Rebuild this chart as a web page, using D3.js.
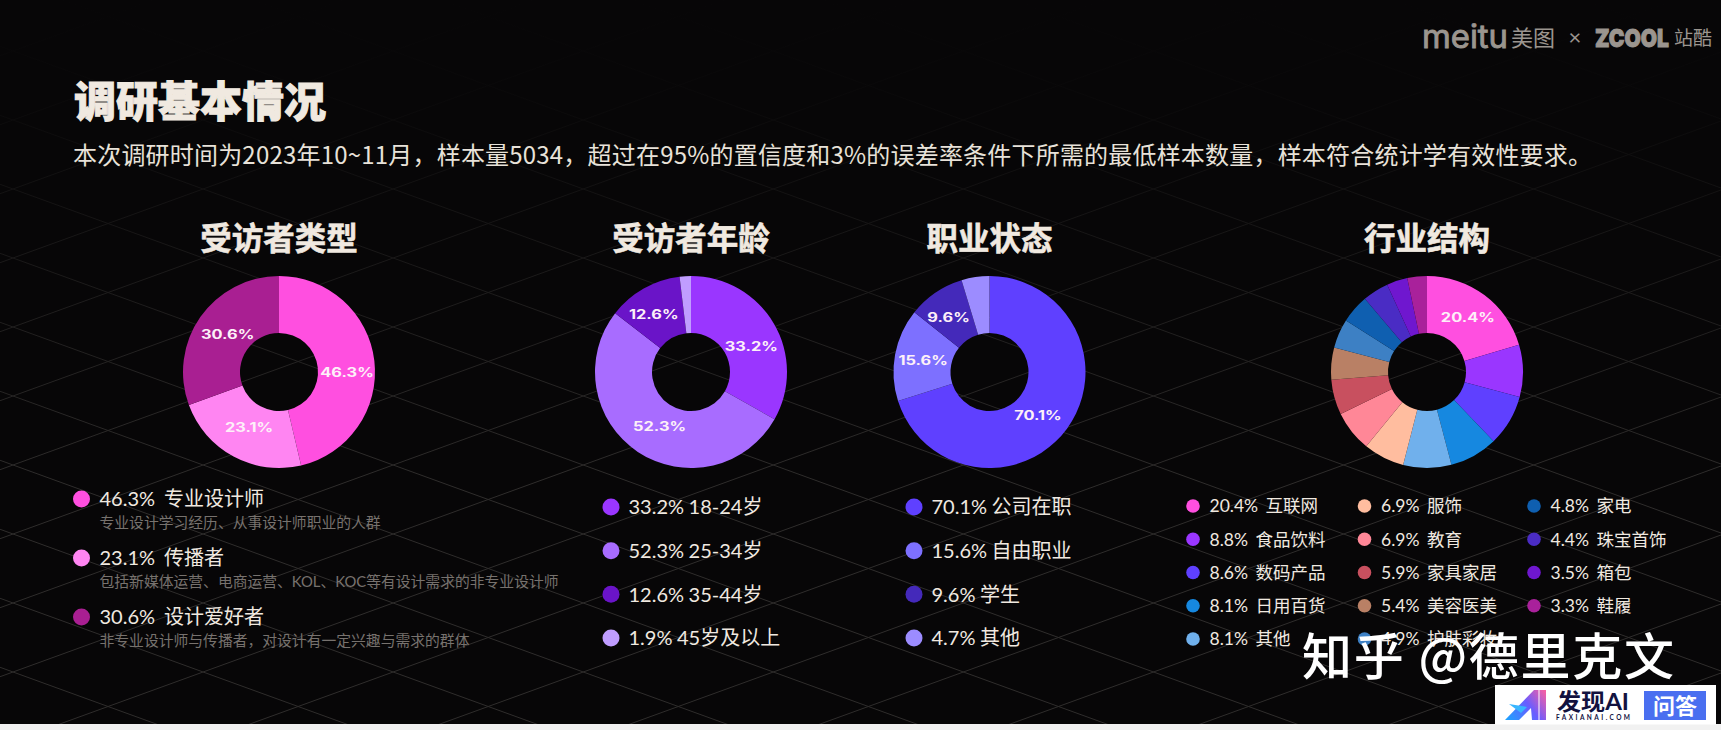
<!DOCTYPE html>
<html lang="zh-CN">
<head>
<meta charset="utf-8">
<script src="https://cdn.jsdelivr.net/npm/d3@7"></script>
<style>
html,body{margin:0;padding:0;background:#070607;overflow:hidden}
text{font-family:"Lato","Noto Sans CJK SC",sans-serif}
</style>
</head>
<body>
<svg id="chart" width="1721" height="730"></svg>
<script>
// ---- data ----
const mainTitle = "调研基本情况";
const subTitle = "本次调研时间为2023年10~11月，样本量5034，超过在95%的置信度和3%的误差率条件下所需的最低样本数量，样本符合统计学有效性要求。";

const typeTitle = "受访者类型";
const typeNames = ["专业设计师", "传播者", "设计爱好者"];
const typeValues = [46.3, 23.1, 30.6];
const typeNotes = ["专业设计学习经历、从事设计师职业的人群", "包括新媒体运营、电商运营、KOL、KOC等有设计需求的非专业设计师", "非专业设计师与传播者，对设计有一定兴趣与需求的群体"];
const typeColors = ["#ff4fe0", "#ff85f2", "#a91f92"];

const ageTitle = "受访者年龄";
const ageNames = ["18-24岁", "25-34岁", "35-44岁", "45岁及以上"];
const ageValues = [33.2, 52.3, 12.6, 1.9];
const ageColors = ["#9a36ff", "#a86cff", "#6a14c8", "#c09dff"];

const jobTitle = "职业状态";
const jobNames = ["公司在职", "自由职业", "学生", "其他"];
const jobValues = [70.1, 15.6, 9.6, 4.7];
const jobColors = ["#5f40ff", "#7d70ff", "#4429ba", "#9c8cff"];

const industryTitle = "行业结构";
const industryNames = ["互联网", "食品饮料", "数码产品", "日用百货", "其他", "服饰", "教育", "家具家居", "美容医美", "护肤彩妆", "家电", "珠宝首饰", "箱包", "鞋履"];
const industryValues = [20.4, 8.8, 8.6, 8.1, 8.1, 6.9, 6.9, 5.9, 5.4, 4.9, 4.8, 4.4, 3.5, 3.3];
const industryColors = ["#ff4fe0", "#9a36ff", "#5f40ff", "#1688e0", "#70b0ec", "#ffbd9f", "#ff8797", "#c8505f", "#b98065", "#3d80c4", "#0f5fb0", "#4a2cc4", "#6f17cf", "#a9219b"];

// ---- layout (not data) ----
const svg = d3.select("#chart");
const cream = "#f0e9e0", greyNote = "#77726e";
const cy = 372, R = 96, r = 39;
const fmt = v => v.toFixed(1) + "%";

const defs = svg.append("defs");
const fade = defs.append("linearGradient").attr("id","fade").attr("x1",0).attr("y1",0).attr("x2",0).attr("y2",1);
[[0,1],[0.14,.92],[0.3,.62],[0.48,.3],[0.66,0],[1,0]].forEach(([o,a]) =>
  fade.append("stop").attr("offset",o).attr("stop-color","#070607").attr("stop-opacity",a));
const aiGrad = defs.append("linearGradient").attr("id","ai").attr("gradientUnits","userSpaceOnUse")
  .attr("x1",1505).attr("y1",720).attr("x2",1546).attr("y2",690);
[[0,"#1aa6ff"],[.55,"#6a5cff"],[1,"#ff5f9e"]].forEach(([o,c]) =>
  aiGrad.append("stop").attr("offset",o).attr("stop-color",c));

// background
svg.append("rect").attr("width",1721).attr("height",730).attr("fill","#070607");

// diamond lattice
const slope = 0.363, period = 69, gx = 13, gy = 465;
const lattice = svg.append("g").attr("stroke","#2f2d2c").attr("stroke-width",1).attr("fill","none");
d3.range(-20, 22).forEach(k => {
  const cA = gy + slope*gx + k*period, cB = gy - slope*gx + k*period;
  lattice.append("line").attr("x1",0).attr("y1",cA).attr("x2",1721).attr("y2",cA - slope*1721);
  lattice.append("line").attr("x1",0).attr("y1",cB).attr("x2",1721).attr("y2",cB + slope*1721);
});
svg.append("rect").attr("width",1721).attr("height",730).attr("fill","url(#fade)");

// bottom strip
svg.append("rect").attr("x",0).attr("y",724).attr("width",1721).attr("height",6).attr("fill","#f1f1f1");

// headings
svg.append("text").attr("x",74).attr("y",117).attr("font-size",42).attr("font-weight",900)
  .attr("fill",cream).attr("stroke",cream).attr("stroke-width",1).text(mainTitle);
svg.append("text").attr("x",73).attr("y",163.5).attr("font-size",24).attr("fill","#e8e2d9")
  .style("font-family",'"Noto Sans CJK SC",sans-serif')
  .attr("textLength",1519).attr("lengthAdjust","spacing").text(subTitle);

// donuts
function donut(cx, title, values, colors, showLabel, nudges) {
  svg.append("text").attr("x",cx).attr("y",250).attr("text-anchor","middle")
    .attr("font-size",31.5).attr("font-weight",700).attr("fill",cream)
    .attr("stroke",cream).attr("stroke-width",.6).text(title);
  const pie = d3.pie().sort(null).value(d => d)(values);
  const arc = d3.arc().innerRadius(r).outerRadius(R);
  const g = svg.append("g").attr("transform",`translate(${cx},${cy})`);
  g.selectAll("path").data(pie).join("path").attr("d",arc).attr("fill",(d,i)=>colors[i]);
  g.selectAll("text").data(pie.filter((d,i)=>i<showLabel)).join("text")
    .attr("transform",(d,i)=>{
      const [x,y] = arc.centroid(d), n = nudges[i] || [0,0];
      return `translate(${x+n[0]},${y+n[1]}) scale(1.3,1)`;
    })
    .attr("text-anchor","middle").attr("dy","0.36em")
    .style("font-family","Inter,sans-serif").attr("font-size",12.6).attr("font-weight",700)
    .attr("fill","#fdf0f8").text(d=>fmt(d.data));
}
donut(279, typeTitle, typeValues, typeColors, 3, [[1,8],[2,-3.5],[4,1]]);
donut(691, ageTitle, ageValues, ageColors, 3, [[2,8],[6,-2],[-4,1]]);
donut(989.5, jobTitle, jobValues, jobColors, 3, [[-6,4],[0,1],[-3,1]]);
donut(1427, industryTitle, industryValues, industryColors, 1, [[0.5,0]]);

// legends
function legendRow(x, y, color, value, name, size, radius, textDx, gap) {
  svg.append("circle").attr("cx",x).attr("cy",y).attr("r",radius).attr("fill",color);
  const t = svg.append("text").attr("x",x+textDx).attr("y",y).attr("dy","0.36em")
    .attr("font-size",size).attr("fill",cream);
  t.append("tspan").text(fmt(value));
  t.append("tspan").attr("dx",gap).text(name);
}

const typeY = d3.scalePoint().domain(d3.range(typeValues.length)).range([499,617]);
typeValues.forEach((v,i) => {
  legendRow(81.5, typeY(i), typeColors[i], v, typeNames[i], 20, 8.5, 18, 9);
  svg.append("text").attr("x",99.5).attr("y",typeY(i)+24).attr("dy","0.36em")
    .attr("font-size",14.8).attr("fill",greyNote).text(typeNotes[i]);
});

const fourY = d3.scalePoint().domain(d3.range(4)).range([507,638]);
ageValues.forEach((v,i) => legendRow(611, fourY(i), ageColors[i], v, ageNames[i], 20, 8.5, 17.5, 4.5));
jobValues.forEach((v,i) => legendRow(914, fourY(i), jobColors[i], v, jobNames[i], 20, 8.5, 17.5, 4.5));

const indY = d3.scalePoint().domain(d3.range(5)).range([506,639]);
const indX = [1193, 1364.5, 1534];
const indCounts = [5, 5, 4];
let idx = 0;
indCounts.forEach((n,c) => {
  d3.range(n).forEach(j => {
    legendRow(indX[c], indY(j), industryColors[idx], industryValues[idx], industryNames[idx], 17.5, 6.8, 16.5, 7.5);
    idx++;
  });
});

// top logos
const logoCol = "#9b958f";
svg.append("text").attr("x",1422).attr("y",48).attr("font-size",32).attr("fill",logoCol)
  .attr("stroke",logoCol).attr("stroke-width",.9)
  .style("font-family","Inter,sans-serif").attr("textLength",86).attr("lengthAdjust","spacingAndGlyphs").text("meitu");
svg.append("text").attr("x",1511).attr("y",46).attr("font-size",22).attr("fill",logoCol).text("美图");
svg.append("text").attr("x",1575).attr("y",45).attr("font-size",22).attr("text-anchor","middle").attr("fill",logoCol).text("×");
svg.append("text").attr("x",1595).attr("y",46.5).attr("font-size",25).attr("font-weight",900).attr("fill",logoCol)
  .attr("stroke",logoCol).attr("stroke-width",1)
  .style("font-family","Inter,sans-serif").attr("textLength",74).attr("lengthAdjust","spacingAndGlyphs").text("ZCOOL");
svg.append("text").attr("x",1674).attr("y",45).attr("font-size",19).attr("fill",logoCol).text("站酷");

// watermark
svg.append("text").attr("x",1302).attr("y",675).attr("font-size",50).attr("font-weight",500)
  .attr("fill","#ffffff").attr("textLength",372).attr("lengthAdjust","spacing")
  .style("font-family",'"Noto Sans CJK SC",sans-serif').text("知乎 @德里克文");

// badge
svg.append("rect").attr("x",1495).attr("y",685).attr("width",221).attr("height",39.5).attr("fill","#ffffff");
svg.append("path").attr("fill","url(#ai)")
  .attr("d","M1534 690H1538.5V720H1532L1531 708L1519 720H1505Z");
svg.append("path").attr("fill","#38b6ff").attr("d","M1509 704L1527 707L1521 713Z");
svg.append("rect").attr("x",1539.5).attr("y",690).attr("width",6.5).attr("height",30).attr("fill","url(#ai)");
svg.append("text").attr("x",1557).attr("y",710).attr("font-size",23).attr("font-weight",700).attr("fill","#12123f")
  .attr("textLength",72).attr("lengthAdjust","spacingAndGlyphs").text("发现AI");
svg.append("text").attr("x",1556).attr("y",720).attr("font-size",6.5).attr("font-weight",700).attr("fill","#12123f")
  .attr("textLength",74).attr("lengthAdjust","spacing").text("FAXIANAI.COM");
svg.append("rect").attr("x",1644).attr("y",691).attr("width",62).attr("height",29).attr("fill","#4a6ff0");
svg.append("text").attr("x",1675).attr("y",713.5).attr("text-anchor","middle").attr("font-size",22).attr("font-weight",700)
  .attr("fill","#ffffff").text("问答");
</script>
</body>
</html>
